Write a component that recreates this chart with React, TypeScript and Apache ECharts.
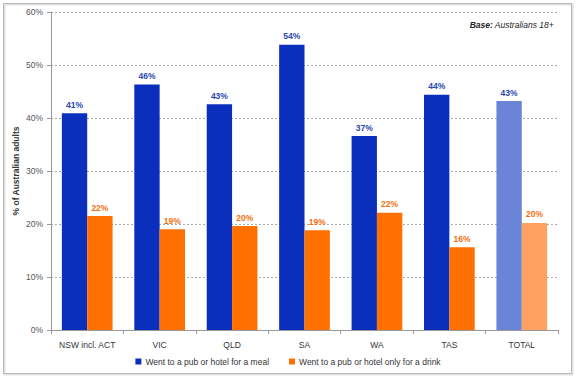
import React, { useEffect, useRef } from "react";
import * as echarts from "echarts";

const categories = ["NSW incl. ACT", "VIC", "QLD", "SA", "WA", "TAS", "TOTAL"];
const mealValues = [40.9, 46.3, 42.6, 53.8, 36.6, 44.4, 43.2];
const drinkValues = [21.5, 19.0, 19.6, 18.8, 22.1, 15.6, 20.2];
const yTicks = [0, 10, 20, 30, 40, 50, 60];
const seriesNames = ["Went to a pub or hotel for a meal", "Went to a pub or hotel only for a drink"];

const FONT = "Liberation Sans";

export default function App() {
  const ref = useRef<HTMLDivElement>(null);
  useEffect(() => {
    const chart = echarts.init(ref.current!, null, { renderer: "svg" });
    const n = categories.length;
    chart.setOption({
      animation: false,
      textStyle: { fontFamily: FONT },
      graphic: [
        {
          type: "rect",
          shape: { x: 4.5, y: 4.5, width: 568, height: 370 },
          style: { fill: "none", stroke: "#e2e2e2", lineWidth: 2 },
          silent: true,
        },
        {
          type: "rect",
          shape: { x: 3.5, y: 3.5, width: 568, height: 370 },
          style: { fill: "none", stroke: "#b8b8b8", lineWidth: 1 },
          silent: true,
        },
        {
          type: "text",
          right: 22,
          top: 20,
          style: {
            text: "{b|Base:} Australians 18+",
            font: `italic 8.5px ${FONT}`,
            fill: "#222",
            rich: { b: { fontWeight: "bold", fontStyle: "italic", fontSize: 8.5, fontFamily: FONT, fill: "#222" } },
          },
        },
      ],
      grid: { left: 51, right: 18, top: 12, bottom: 48, containLabel: false },
      legend: {
        bottom: 7,
        left: "center",
        itemWidth: 6,
        itemHeight: 6,
        itemGap: 20,
        icon: "rect",
        textStyle: { fontSize: 8.5, color: "#333", fontFamily: FONT, padding: [0, 0, 0, -1] },
        data: seriesNames,
      },
      xAxis: {
        type: "category",
        data: categories,
        axisLine: { lineStyle: { color: "#999" } },
        axisTick: { show: true, alignWithLabel: false, lineStyle: { color: "#999" }, length: 4 },
        axisLabel: { color: "#333", fontSize: 8.5, margin: 10, fontFamily: FONT, interval: 0 },
      },
      yAxis: {
        type: "value",
        min: yTicks[0],
        max: yTicks[yTicks.length - 1],
        interval: 10,
        name: "% of Australian adults",
        nameLocation: "middle",
        nameGap: 31,
        nameMoveOverlap: false,
        nameTextStyle: { fontSize: 8.5, fontWeight: "bold", color: "#333", fontFamily: FONT },
        axisLine: { show: true, lineStyle: { color: "#999" } },
        axisTick: { show: true, length: 4, lineStyle: { color: "#999" } },
        axisLabel: { formatter: (v: number) => `${v}%`, color: "#555", fontSize: 8.5, margin: 8, fontFamily: FONT },
        splitLine: { lineStyle: { type: [2, 2], color: "#aaa" } },
      },
      series: [
        {
          name: seriesNames[0],
          type: "bar",
          barGap: "0%",
          barCategoryGap: "30%",
          itemStyle: { color: "#0a2fbd" },
          data: mealValues.map((v, i) => ({
            value: v,
            itemStyle: { color: i === n - 1 ? "#6a84d8" : "#0a2fbd" },
          })),
          label: {
            show: true,
            position: "top",
            distance: 4,
            formatter: (p: any) => `${Math.round(p.value)}%`,
            color: "#2846b0",
            fontWeight: "bold",
            fontSize: 8.5,
            fontFamily: FONT,
          },
        },
        {
          name: seriesNames[1],
          type: "bar",
          barGap: "0%",
          barCategoryGap: "30%",
          itemStyle: { color: "#ff7000" },
          data: drinkValues.map((v, i) => ({
            value: v,
            itemStyle: { color: i === n - 1 ? "#ffa261" : "#ff7000" },
          })),
          label: {
            show: true,
            position: "top",
            distance: 4,
            formatter: (p: any) => `${Math.round(p.value)}%`,
            color: "#f07010",
            fontWeight: "bold",
            fontSize: 8.5,
            fontFamily: FONT,
          },
        },
      ],
    });
    return () => chart.dispose();
  }, []);
  return (
    <div style={{ position: "fixed", left: 0, top: 0, width: 576, height: 378, background: "#fff" }}>
      <div ref={ref} style={{ width: 576, height: 378 }} />
    </div>
  );
}
